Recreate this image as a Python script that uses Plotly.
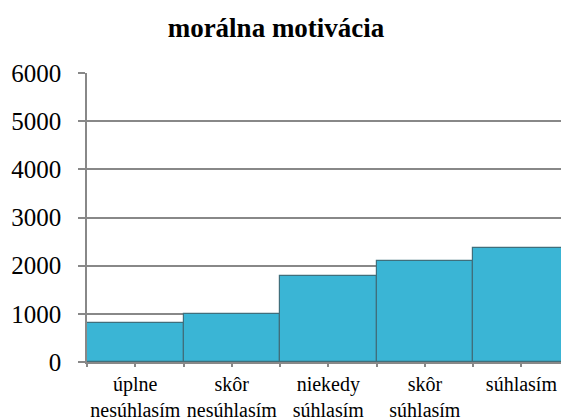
import plotly.graph_objects as go

categories = ["úplne<br>nesúhlasím", "skôr<br>nesúhlasím", "niekedy<br>súhlasím", "skôr<br>súhlasím", "súhlasím"]
values = [800, 990, 1780, 2090, 2360]
y_ticks = [0, 1000, 2000, 3000, 4000, 5000, 6000]
title_text = "morálna motivácia"

fig = go.Figure()
fig.add_trace(go.Bar(
    x=list(range(len(categories))),
    y=values,
    width=1.0,
    marker=dict(color="#3AB5D5", line=dict(color="#3F6F7C", width=1.2)),
    hoverinfo="skip",
))

font_family = "Liberation Serif, Times New Roman, serif"
fig.update_layout(
    width=561, height=420,
    paper_bgcolor="white", plot_bgcolor="white",
    margin=dict(l=87, r=0, t=73, b=58),
    showlegend=False,
    bargap=0,
    title=dict(text="<b>" + title_text + "</b>", x=0.492, xanchor="center", y=0.935, yanchor="middle",
               font=dict(family=font_family, size=27, color="black")),
    font=dict(family=font_family, color="black"),
)
fig.update_xaxes(
    range=[-0.5, 4.41],
    automargin=False,
    tickmode="array",
    tickvals=[i - 0.5 for i in range(len(categories))] + [i for i in range(len(categories))],
    ticktext=[""] * len(categories) + categories,
    tickangle=0,
    ticks="outside", ticklen=3, tickcolor="#888888", tickwidth=1.5,
    showline=True, linecolor="#888888", linewidth=1.5,
    showgrid=False, zeroline=False,
    tickfont=dict(family=font_family, size=20, color="black"),
)
fig.update_yaxes(
    range=[0, 6000],
    automargin=False,
    tickmode="array", tickvals=y_ticks,
    ticks="outside", ticklen=7, tickcolor="#888888", tickwidth=1.5,
    ticklabelstandoff=12,
    showline=True, linecolor="#888888", linewidth=1.5,
    showgrid=True, gridcolor="#888888", gridwidth=1.5,
    zeroline=False,
    tickfont=dict(family=font_family, size=25, color="black"),
)
fig.write_html(
    "out.html",
    config={"displayModeBar": False},
    post_script="document.body.style.margin='0';document.body.style.overflow='hidden';",
)
